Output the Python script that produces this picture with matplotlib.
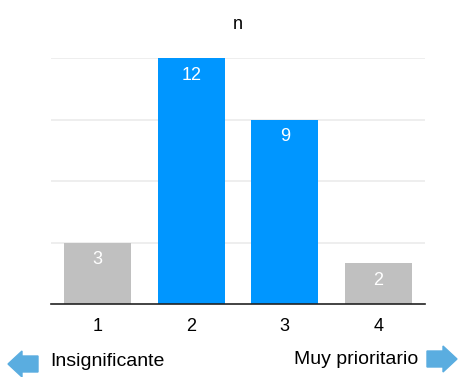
import matplotlib.pyplot as plt
from matplotlib.patches import Polygon

plt.rcParams['font.family'] = ['Liberation Sans', 'DejaVu Sans']

categories = ['1', '2', '3', '4']
counts = [3, 12, 9, 2]
bar_colors = ['#c0c0c0', '#0096ff', '#0096ff', '#c0c0c0']
left_label = 'Insignificante'
right_label = 'Muy prioritario'

W, H = 459, 377
fig = plt.figure(figsize=(W / 100, H / 100), dpi=100)
# axes box in pixel terms: x 51..425, y 58..304 (from top)
ax = fig.add_axes([51 / W, 1 - 304 / H, 374 / W, 246 / H])

x = range(len(categories))
bars = ax.bar(x, counts, width=0.72, color=bar_colors, zorder=2)
for b, v in zip(bars, counts):
    ax.text(b.get_x() + b.get_width() / 2, v - 0.85, str(v),
            ha='center', va='center', color='white', fontsize=13, zorder=3)

ax.set_xlim(-0.5, len(categories) - 0.5)
ax.set_ylim(0, 12)
ax.set_yticks([3, 6, 9, 12])
ax.yaxis.grid(True, color='#ebebeb', linewidth=1.2, zorder=0)
ax.tick_params(axis='y', left=False, labelleft=False)
ax.set_xticks(list(x))
ax.set_xticklabels(categories, fontsize=13)
ax.tick_params(axis='x', length=0, pad=10)
for side in ['top', 'right', 'left']:
    ax.spines[side].set_visible(False)
ax.spines['bottom'].set_color('#222222')
ax.spines['bottom'].set_linewidth(1.2)
ax.set_title('n', fontsize=13, pad=21)

# arrows at the bottom, in pixel coordinates (origin bottom-left)
def px(xp, yp):
    return (xp, H - yp)

arrow_color = '#5aade0'
left_arrow = [px(8, 364), px(22, 351), px(22, 356), px(38, 356),
              px(38, 372), px(22, 372), px(22, 377)]
right_arrow = [px(457, 359), px(443, 346), px(443, 351), px(427, 351),
               px(427, 367), px(443, 367), px(443, 372)]
for pts in (left_arrow, right_arrow):
    fig.add_artist(Polygon(pts, closed=True, color=arrow_color, transform=None))

fig.text(50 / W, 1 - 362 / H, left_label, ha='left', va='center', fontsize=14)
fig.text(418 / W, 1 - 360 / H, right_label, ha='right', va='center', fontsize=14)

fig.savefig('out.png', dpi=100)
